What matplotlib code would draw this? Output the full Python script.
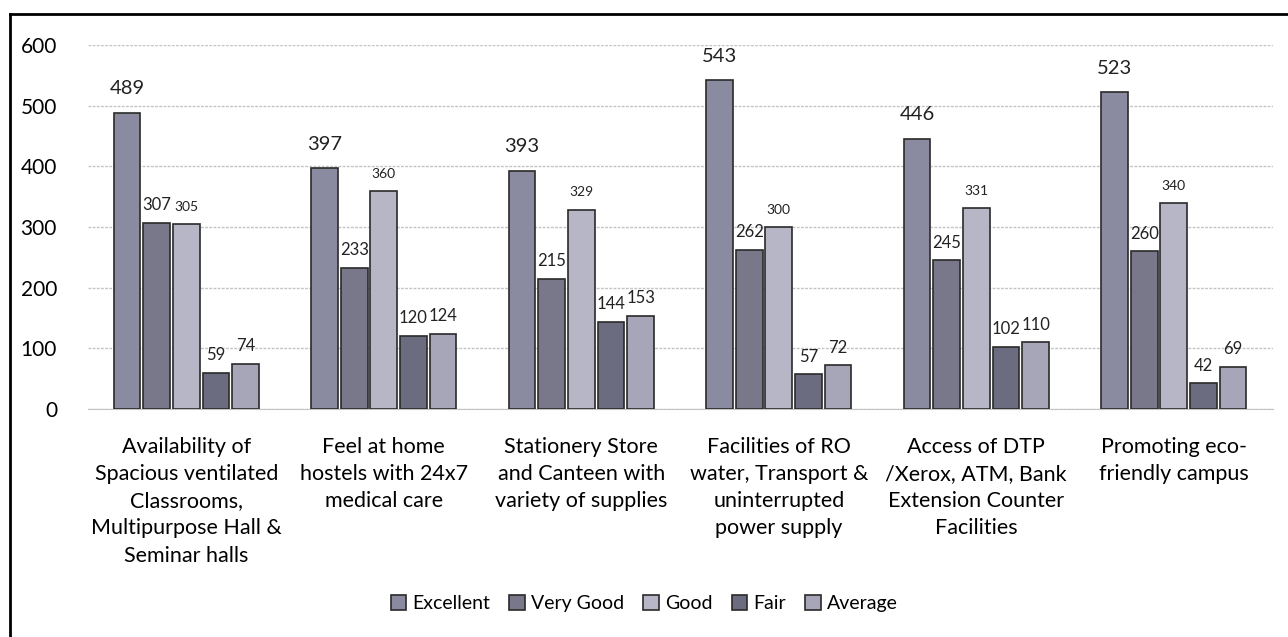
import matplotlib
matplotlib.use('Agg')
import matplotlib.pyplot as plt
import numpy as np

categories = [
    'Availability of\nSpacious ventilated\nClassrooms,\nMultipurpose Hall &\nSeminar halls',
    'Feel at home\nhostels with 24x7\nmedical care',
    'Stationery Store\nand Canteen with\nvariety of supplies',
    'Facilities of RO\nwater, Transport &\nuninterrupted\npower supply',
    'Access of DTP\n/Xerox, ATM, Bank\nExtension Counter\nFacilities',
    'Promoting eco-\nfriendly campus',
]
series = ['Excellent', 'Very Good', 'Good', 'Fair', 'Average']
excellent = [489, 397, 393, 543, 446, 523]
very_good = [307, 233, 215, 262, 245, 260]
good = [305, 360, 329, 300, 331, 340]
fair = [59, 120, 144, 57, 102, 42]
average = [74, 124, 153, 72, 110, 69]
values = [excellent, very_good, good, fair, average]

colors = ['#8a8aa0', '#78788a', '#b6b6c6', '#6c6c80', '#a6a6b8']
label_sizes = [14.5, 12, 10, 12, 12]
label_pads = [11, 7, 8, 7, 7]

plt.rcParams['font.family'] = ['Lato', 'DejaVu Sans']

fig = plt.figure(figsize=(12.88, 6.37), dpi=100)
ax = fig.add_axes([0.068, 0.358, 0.92, 0.571])

x = np.arange(len(categories))
step = 0.15
width = 0.135
for i, (name, vals) in enumerate(zip(series, values)):
    pos = x + (i - 2) * step
    ax.bar(pos, vals, width, color=colors[i], edgecolor='#2a2a2a', linewidth=1.2,
           label=name, zorder=3)
    for px, v in zip(pos, vals):
        ax.annotate(str(v), (px, v), xytext=(0, label_pads[i]), textcoords='offset points',
                    ha='center', va='bottom', fontsize=label_sizes[i], color='#222222')

ax.set_ylim(0, 600)
ax.set_xlim(-0.5, len(categories) - 0.5)
ax.set_yticks(range(0, 601, 100))
ax.set_xticks(x)
ax.set_xticklabels(categories, fontsize=15.5, linespacing=1.45)
ax.tick_params(axis='y', labelsize=15, length=0, pad=22)
ax.tick_params(axis='x', length=0, pad=20)
ax.yaxis.grid(True, color='#c4c4c4', linestyle=(0, (2, 1)), linewidth=1, zorder=0)
for s in ['top', 'right', 'left']:
    ax.spines[s].set_visible(False)
ax.spines['bottom'].set_color('#c4c4c4')

fig.legend(loc='center', bbox_to_anchor=(0.5, 0.052), ncol=5, frameon=False,
           fontsize=14, handlelength=0.8, handleheight=0.8, handletextpad=0.3,
           columnspacing=1.0)

# outer frame
fig.add_artist(plt.Line2D([0.008, 0.008], [0.0, 0.978], color='black', linewidth=2))
fig.add_artist(plt.Line2D([0.008, 1.0], [0.978, 0.978], color='black', linewidth=2))

fig.savefig('out.png', dpi=100)
